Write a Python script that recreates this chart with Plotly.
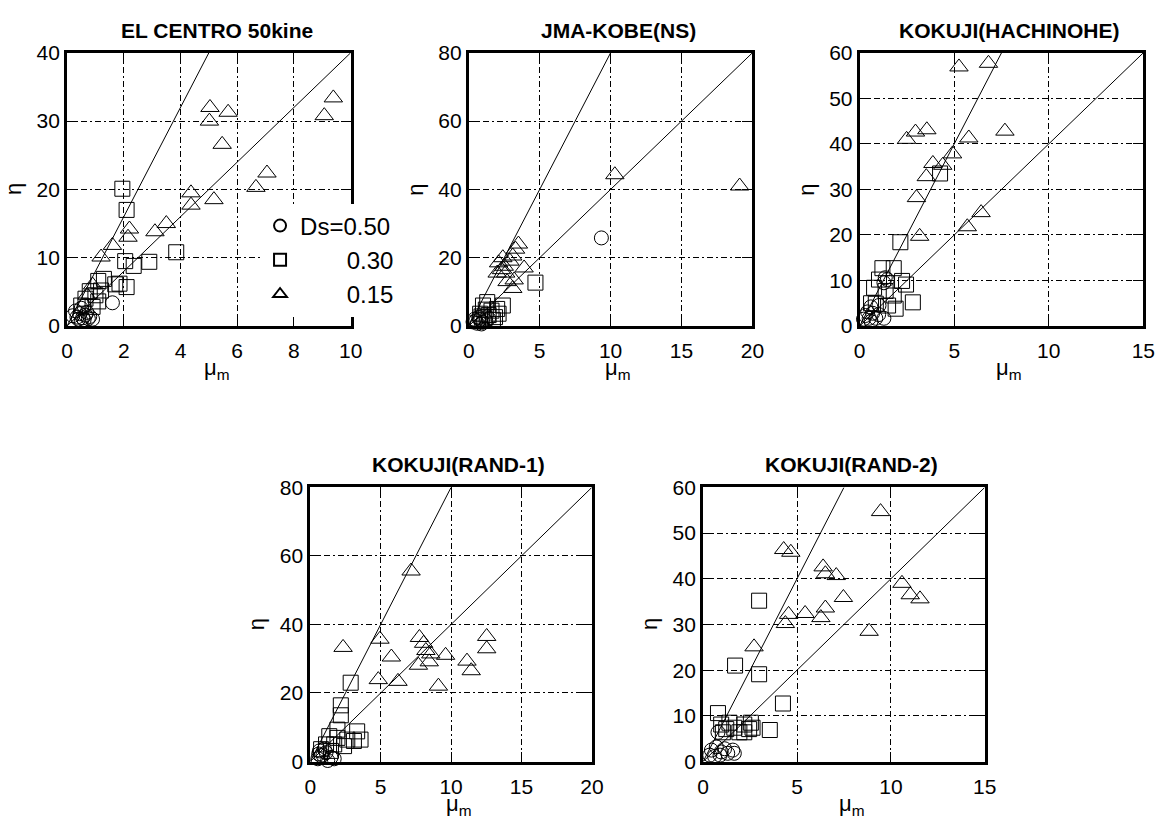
import plotly.graph_objects as go

FONT = "Liberation Sans, Arial, Helvetica, sans-serif"
W, H = 1175, 826

titles = ["EL CENTRO 50kine", "JMA-KOBE(NS)", "KOKUJI(HACHINOHE)", "KOKUJI(RAND-1)", "KOKUJI(RAND-2)"]
x_max = [10, 20, 15, 20, 15]
x_dtick = [2, 5, 5, 5, 5]
y_max = [40, 80, 60, 80, 60]
y_dtick = [10, 20, 10, 20, 10]

# reference lines eta = 8*mu and eta = 4*mu (end points at the frame)
upper_mu = [5, 10, 7.5, 10, 7.5]
upper_eta = [40, 80, 60, 80, 60]
lower_mu = [10, 20, 15, 20, 15]
lower_eta = [40, 80, 60, 80, 60]

legend_names = ["Ds=0.50", "\u00a0\u00a0\u00a0\u00a0\u00a0\u00a0\u00a00.30", "\u00a0\u00a0\u00a0\u00a0\u00a0\u00a0\u00a00.15"]

# ---- EL CENTRO 50kine ----
c1_mu = [0.2, 0.3, 0.4, 0.45, 0.5, 0.55, 0.6, 0.65, 0.7, 0.75, 0.8, 0.9, 0.35, 0.5, 1.6, 0.6]
c1_eta = [1.5, 2.2, 1.0, 1.8, 2.6, 1.2, 0.9, 1.6, 2.0, 1.1, 1.4, 1.0, 1.3, 0.7, 3.4, 2.9]
s1_mu = [1.95, 2.1, 2.05, 2.35, 2.9, 3.85, 2.1, 1.85, 1.1, 1.3, 1.7, 0.8, 0.65, 1.1, 0.9, 0.5, 1.2, 1.0]
s1_eta = [20.1, 17.0, 9.5, 8.8, 9.4, 10.8, 5.7, 6.2, 6.6, 6.9, 6.1, 5.1, 4.0, 3.6, 2.8, 3.0, 5.2, 4.5]
t1_mu = [5.04, 5.02, 5.68, 5.47, 9.07, 9.39, 7.05, 6.66, 5.18, 4.37, 4.37, 3.5, 3.1, 2.2, 2.15, 1.6, 1.2, 0.9, 0.7]
t1_eta = [32.0, 30.0, 31.3, 26.6, 30.8, 33.4, 22.4, 20.3, 18.5, 19.5, 17.7, 15.0, 13.8, 14.2, 13.0, 11.8, 10.1, 6.0, 4.5]

# ---- JMA-KOBE(NS) ----
c2_mu = [0.3, 0.5, 0.6, 0.8, 1.0, 0.7, 1.2, 0.4, 0.9, 1.4, 9.35]
c2_eta = [1.2, 1.5, 0.8, 1.9, 1.1, 2.5, 1.5, 2.0, 0.6, 2.2, 25.8]
s2_mu = [4.7, 1.3, 1.0, 1.6, 2.1, 2.4, 1.85, 0.8, 1.4, 1.1, 1.7, 2.0, 1.2, 0.9]
s2_eta = [12.7, 7.0, 6.0, 4.5, 3.6, 6.0, 2.6, 3.6, 3.2, 2.2, 1.8, 5.0, 4.8, 2.8]
t2_mu = [10.3, 19.1, 3.5, 3.3, 2.4, 2.1, 2.9, 3.1, 2.3, 2.6, 3.9, 2.7, 3.2, 3.1, 2.0, 2.5]
t2_eta = [44.3, 41.0, 24.0, 22.5, 20.0, 18.5, 19.0, 20.5, 16.5, 15.5, 17.0, 13.0, 13.5, 11.0, 15.5, 17.5]

# ---- KOKUJI(HACHINOHE) ----
c3_mu = [1.46, 1.28, 1.35, 0.5, 0.68, 0.42, 0.85, 1.28, 0.3, 0.59, 1.02, 0.2, 0.6, 1.0]
c3_eta = [10.2, 9.5, 10.6, 1.7, 2.8, 3.1, 1.7, 1.7, 2.3, 4.2, 4.5, 1.5, 1.0, 2.5]
s3_mu = [2.15, 4.25, 2.81, 1.2, 1.8, 1.02, 2.24, 2.45, 1.8, 1.9, 0.85, 1.37, 0.76, 0.6, 1.5]
s3_eta = [18.4, 33.5, 5.2, 12.7, 12.7, 10.2, 9.9, 9.1, 6.7, 3.8, 4.9, 7.7, 8.4, 5.0, 4.5]
t3_mu = [5.25, 6.81, 7.68, 5.77, 2.95, 3.55, 2.48, 4.91, 3.87, 4.39, 3.52, 3.0, 3.17, 6.42, 5.69]
t3_eta = [56.9, 57.7, 42.8, 41.3, 42.6, 43.1, 41.0, 37.8, 35.7, 35.3, 32.8, 28.2, 19.7, 24.9, 21.8]

# ---- KOKUJI(RAND-1) ----
c4_mu = [0.77, 1.12, 0.54, 1.47, 1.0, 1.7, 0.65, 1.24, 0.9, 0.6]
c4_eta = [1.7, 2.6, 0.8, 1.2, 3.6, 0.8, 3.1, 0.3, 1.9, 2.2]
s4_mu = [2.87, 2.17, 2.17, 1.93, 3.33, 3.1, 3.57, 2.63, 1.93, 1.35, 1.12, 1.7, 2.4, 0.77, 1.47]
s4_eta = [23.0, 16.4, 13.5, 9.3, 8.8, 6.0, 6.4, 6.4, 6.9, 7.4, 5.0, 5.0, 4.5, 3.6, 3.1]
t4_mu = [7.16, 4.95, 2.33, 5.76, 4.83, 6.23, 7.75, 8.05, 8.21, 8.56, 8.45, 7.68, 9.61, 9.1, 11.13, 11.43, 12.53, 12.53]
t4_eta = [55.6, 35.7, 33.3, 30.5, 23.9, 23.4, 36.2, 34.5, 32.4, 31.4, 29.1, 28.1, 31.0, 22.0, 29.3, 26.5, 36.5, 32.9]

# ---- KOKUJI(RAND-2) ----
c5_mu = [0.79, 0.44, 0.7, 0.96, 0.35, 1.31, 1.58, 0.61, 1.14, 1.66, 0.9]
c5_eta = [6.4, 2.5, 3.2, 2.1, 1.4, 1.8, 2.5, 1.1, 2.8, 1.8, 1.4]
s5_mu = [2.98, 1.7, 2.98, 4.25, 0.79, 3.55, 0.96, 1.4, 1.66, 2.19, 2.54, 2.63, 1.93, 2.19, 1.23, 2.45, 1.05]
s5_eta = [35.2, 21.0, 19.1, 12.7, 10.6, 6.9, 8.1, 8.5, 7.4, 8.1, 8.5, 7.4, 6.4, 6.4, 7.1, 7.1, 6.4]
t5_mu = [9.45, 4.29, 4.67, 6.39, 6.51, 7.09, 7.47, 4.55, 4.38, 5.43, 6.51, 6.27, 8.84, 10.59, 11.03, 11.55, 2.71]
t5_eta = [54.7, 46.4, 45.8, 42.6, 41.1, 40.7, 35.9, 32.2, 30.2, 32.4, 33.6, 31.5, 28.5, 39.0, 36.5, 35.6, 25.1]

circles = [(c1_mu, c1_eta), (c2_mu, c2_eta), (c3_mu, c3_eta), (c4_mu, c4_eta), (c5_mu, c5_eta)]
squares = [(s1_mu, s1_eta), (s2_mu, s2_eta), (s3_mu, s3_eta), (s4_mu, s4_eta), (s5_mu, s5_eta)]
triangles = [(t1_mu, t1_eta), (t2_mu, t2_eta), (t3_mu, t3_eta), (t4_mu, t4_eta), (t5_mu, t5_eta)]

# plot-area boxes in pixels (left, right, top, bottom)
boxes = [(62, 350, 42, 323), (470, 758, 42, 323), (867, 1155, 42, 323),
         (309, 595, 489, 771), (708, 994, 489, 771)]

fig = go.Figure()
layout = dict(width=W, height=H, margin=dict(l=0, r=0, t=0, b=0), autosize=False,
              paper_bgcolor="white", plot_bgcolor="white",
              font=dict(family=FONT, color="black", size=21))
annotations = []

for i in range(5):
    xa = "x" if i == 0 else f"x{i+1}"
    ya = "y" if i == 0 else f"y{i+1}"
    l, r, t, b = boxes[i]
    xd = [l / W, r / W]
    yd = [1 - b / H, 1 - t / H]
    ax_common = dict(showgrid=True, gridcolor="black", gridwidth=1, griddash="6px,3px,2px,3px",
                     ticks="inside", ticklen=10, tickwidth=1, tickcolor="black",
                     showline=True, linecolor="black", linewidth=3, mirror="ticks",
                     zeroline=False, tick0=0, fixedrange=True,
                     tickfont=dict(family=FONT, size=21, color="black"))
    layout["xaxis" if i == 0 else f"xaxis{i+1}"] = dict(
        ax_common, domain=xd, range=[0, x_max[i]], dtick=x_dtick[i], anchor=ya,
        ticklabelstandoff=4)
    layout["yaxis" if i == 0 else f"yaxis{i+1}"] = dict(
        ax_common, domain=yd, range=[0, y_max[i]], dtick=y_dtick[i], anchor=xa)

    for lm, le in ((upper_mu[i], upper_eta[i]), (lower_mu[i], lower_eta[i])):
        fig.add_trace(go.Scatter(x=[0, lm], y=[0, le], mode="lines", xaxis=xa, yaxis=ya,
                                 line=dict(color="black", width=1), showlegend=False,
                                 hoverinfo="skip"))
    for (mu, eta), sym, size, name in ((circles[i], "circle-open", 14, legend_names[0]),
                                       (squares[i], "square-open", 15, legend_names[1]),
                                       (triangles[i], "triangle-up-open", 16, legend_names[2])):
        fig.add_trace(go.Scatter(x=mu, y=eta, mode="markers", xaxis=xa, yaxis=ya, name=name,
                                 legendgroup=name, showlegend=(i == 0), cliponaxis=False,
                                 marker=dict(symbol=sym, size=size, color="black",
                                             line=dict(color="black", width=1))))
    # subplot title
    annotations.append(dict(text="<b>" + titles[i] + "</b>", xref="paper", yref="paper",
                            x=(l + r) / 2 / W + 8 / W, y=1 - t / H, xanchor="center", yanchor="bottom",
                            yshift=9, showarrow=False, font=dict(family=FONT, size=21, color="black")))
    # x-axis title  mu_m
    annotations.append(dict(text="\u03bc<sub>m</sub>", xref="paper", yref="paper",
                            x=(l + r) / 2 / W + 8 / W, y=1 - b / H, xanchor="center", yanchor="top",
                            yshift=-27, showarrow=False, font=dict(family=FONT, size=22, color="black")))
    # y-axis title eta
    annotations.append(dict(text="\u03b7", xref="paper", yref="paper", textangle=-90,
                            x=l / W, y=(1 - b / H + 1 - t / H) / 2, xanchor="right", yanchor="middle",
                            xshift=-39, showarrow=False, font=dict(family=FONT, size=22, color="black")))

layout["annotations"] = annotations
layout["legend"] = dict(x=258 / W, y=1 - 197 / H, xanchor="left", yanchor="top",
                        bgcolor="white", borderwidth=0, font=dict(family=FONT, size=24, color="black"),
                        itemsizing="constant", traceorder="grouped", tracegroupgap=0)
fig.update_layout(**layout)
fig.write_html("out.html")
